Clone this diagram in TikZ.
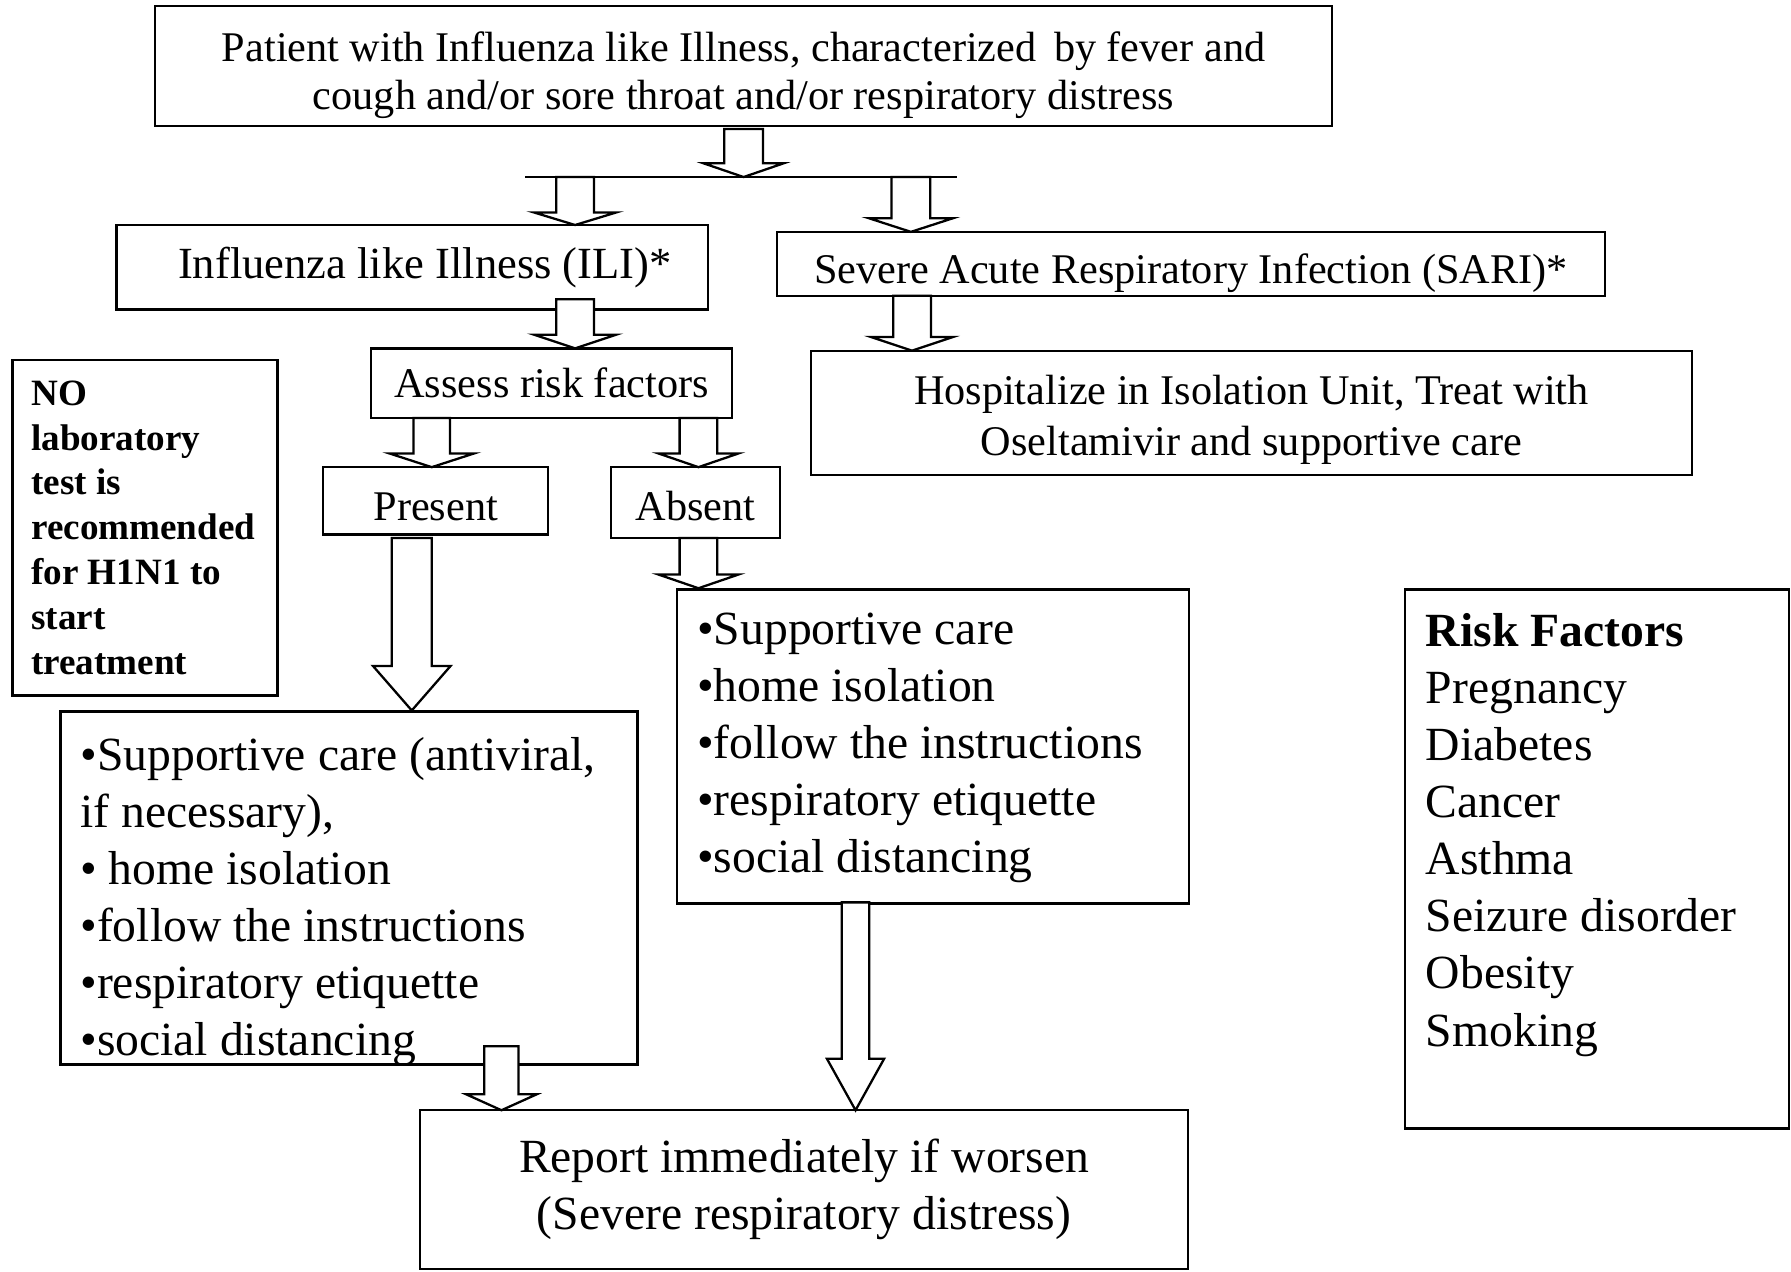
\documentclass[tikz,border=0pt]{standalone}
\usepackage{fontspec}
\setmainfont{Liberation Serif}
\usetikzlibrary{calc}
\newcommand\fa{\fontsize{18.5}{21}\selectfont}
\newcommand\fai{\fontsize{19.5}{21}\selectfont}
\newcommand\fh{\fontsize{18.5}{22}\selectfont}
\newcommand\fb{\fontsize{20.85}{25}\selectfont}
\newcommand\fc{\fontsize{16.25}{19.6}\selectfont\bfseries}
\newcommand\barr[5]{%
  \draw[barrow] let \p1=(#1), \p2=(#2) in
    ({\x1-#3*0.5pt},\y1) -- ({\x1-#3*0.5pt},{\y2+#5*0.5pt}) --
    ({\x1-#4*0.5pt},{\y2+#5*0.5pt}) -- (\x1,\y2) --
    ({\x1+#4*0.5pt},{\y2+#5*0.5pt}) -- ({\x1+#3*0.5pt},{\y2+#5*0.5pt}) --
    ({\x1+#3*0.5pt},\y1) -- cycle;}
\begin{document}
\begin{tikzpicture}[x=0.5pt,y=-0.5pt,
  box/.style={draw, line width=1pt, inner sep=0pt, align=center},
  nwbox/.style={draw, line width=1pt, inner sep=0pt, anchor=north west},
  ctxt/.style={inner sep=0pt, align=center},
  txt/.style={inner sep=0pt, anchor=north west, align=left},
  barrow/.style={draw, line width=1pt, fill=white, line join=miter},
  conn/.style={draw, line width=1pt}]
\useasboundingbox (0,0) rectangle (1568,1113);

% boxes
\node[box, minimum width=515pt, minimum height=52.5pt] (top) at (651,57.5) {};
\node[ctxt, font=\fa] (toptext) at ([yshift=-4pt]top.center)
  {Patient with Influenza like Illness, characterized\, by fever and\\ cough and/or sore throat and/or respiratory distress};
\node[box, font=\fai, minimum width=259pt, minimum height=37pt] (ili) at (361,234)
  {\hspace*{11pt}Influenza like Illness (ILI)*};
\node[box, minimum width=362.5pt, minimum height=28pt] (sari) at (1042.5,231) {};
\node[ctxt, font=\fa] (saritext) at ([yshift=-4pt]sari.center)
  {Severe Acute Respiratory Infection (SARI)*};
\node[box, font=\fa, minimum width=158pt, minimum height=30.5pt] (assess) at (483,335.5)
  {Assess risk factors};
\node[box, minimum width=385.5pt, minimum height=54.5pt] (hosp) at (1095.5,361.5) {};
\node[ctxt, font=\fh] (hosptext) at ([yshift=-3pt]hosp.center)
  {Hospitalize in Isolation Unit, Treat with\\ Oseltamivir and supportive care};
\node[box, minimum width=98.5pt, minimum height=29.5pt] (present) at (381.5,438.5) {};
\node[ctxt, font=\fa] (presenttext) at ([yshift=-2.5pt]present.center) {Present};
\node[box, minimum width=74pt, minimum height=31pt] (absent) at (609,440) {};
\node[ctxt, font=\fa] (absenttext) at ([yshift=-1.5pt]absent.center) {Absent};
\node[nwbox, minimum width=116pt, minimum height=147pt] (nobox) at (10,314) {};
\node[txt, font=\fc] (notext) at (27,333)
  {NO\\ laboratory\\ test is\\ recommended\\ for H1N1 to\\ start\\ treatment};
\node[nwbox, minimum width=252.5pt, minimum height=154.5pt] (lbox) at (52,622) {};
\node[txt, font=\fb] (ltext) at (70,645)
  {•Supportive care (antiviral,\\ if necessary),\\ • home isolation\\ •follow the instructions\\ •respiratory etiquette\\ •social distancing};
\node[nwbox, minimum width=224pt, minimum height=137.5pt] (rbox) at (592,515) {};
\node[txt, font=\fb] (rtext) at (610,536)
  {•Supportive care\\ •home isolation\\ •follow the instructions\\ •respiratory etiquette\\ •social distancing};
\node[nwbox, minimum width=168pt, minimum height=236pt] (riskbox) at (1229,515) {};
\node[txt, font=\fb] (risktext) at (1248,536.5)
  {\textbf{Risk Factors}\\ Pregnancy\\ Diabetes\\ Cancer\\ Asthma\\ Seizure disorder\\ Obesity\\ Smoking};
\node[box, font=\fb, minimum width=336pt, minimum height=69.5pt] (report) at (704,1041.5)
  {Report immediately if worsen\\ (Severe respiratory distress)};

% branch line
\coordinate (hl1) at (460,155);
\coordinate (hl2) at (838,155);
\draw[conn] (hl1) -- (hl2);

% block arrow end points
\coordinate (a0s) at (651,113);   \coordinate (a0e) at (651,155);
\coordinate (a1s) at (503.5,155); \coordinate (a1e) at (503.5,197);
\coordinate (a2s) at (797.5,155); \coordinate (a2e) at (797.5,203);
\coordinate (a3s) at (503.5,262); \coordinate (a3e) at (503.5,305);
\coordinate (a4s) at (798.5,259); \coordinate (a4e) at (798.5,307);
\coordinate (a5s) at (378,366);   \coordinate (a5e) at (378,409);
\coordinate (a6s) at (611.5,366); \coordinate (a6e) at (611.5,409);
\coordinate (a7s) at (360.5,471); \coordinate (a7e) at (360.5,622);
\coordinate (a8s) at (611.5,471); \coordinate (a8e) at (611.5,515);
\coordinate (a9s) at (749,790);   \coordinate (a9e) at (749,972);
\coordinate (a10s) at (439,916);  \coordinate (a10e) at (439,972);

\barr{a0s}{a0e}{17}{35}{12}
\barr{a1s}{a1e}{16.5}{36}{11}
\barr{a2s}{a2e}{17}{37}{12}
\barr{a3s}{a3e}{16.5}{36}{12}
\barr{a4s}{a4e}{16.5}{36}{12}
\barr{a5s}{a5e}{16}{37}{12}
\barr{a6s}{a6e}{16.5}{35}{12}
\barr{a7s}{a7e}{17.5}{34}{39}
\barr{a8s}{a8e}{16.5}{35}{12}
\barr{a9s}{a9e}{12}{25}{45}
\barr{a10s}{a10e}{15}{31}{14}
\end{tikzpicture}
\end{document}
